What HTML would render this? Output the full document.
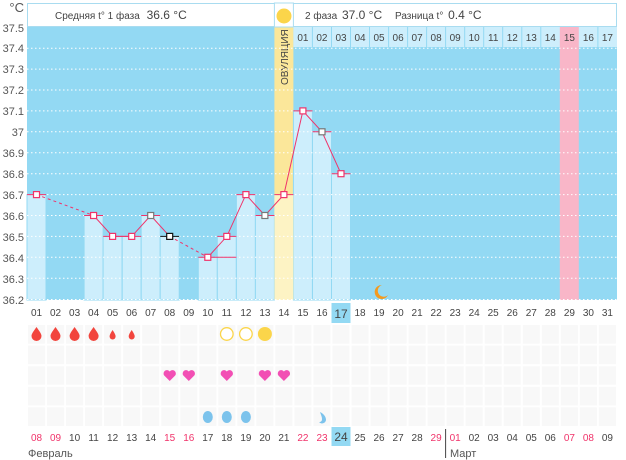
<!DOCTYPE html>
<html><head><meta charset="utf-8"><style>
html,body{margin:0;padding:0;background:#fff;}
svg{display:block;font-family:"Liberation Sans","DejaVu Sans",sans-serif;}
</style></head><body>
<svg width="626" height="460" viewBox="0 0 626 460" xmlns="http://www.w3.org/2000/svg">
<defs>
<pattern id="chk" width="19.03" height="20.6" patternUnits="userSpaceOnUse" x="27" y="324">
<rect width="19.03" height="20.6" fill="#fff"/>
<rect x="1" y="1" width="17" height="18.6" fill="#f8f8f8"/>
</pattern>
</defs>
<rect x="27" y="27" width="590" height="273" fill="#93d9f3"/>
<rect x="27.5" y="3.5" width="589" height="23" fill="#fff" stroke="#a9dcf0"/>
<text x="55" y="19" font-size="10" fill="#444">Средняя t° 1 фаза <tspan font-size="12" dx="4">36.6 °C</tspan></text>
<text x="305" y="19" font-size="10" fill="#444">2 фаза <tspan font-size="12" dx="2">37.0 °C</tspan></text>
<text x="395" y="19" font-size="10" fill="#444">Разница t° <tspan font-size="12" dx="2">0.4 °C</tspan></text>
<rect x="274.4" y="27" width="19" height="273" fill="#fbe79a"/>
<rect x="274.4" y="3" width="19" height="24" fill="#fff" stroke="#a9dcf0"/>
<circle cx="284" cy="16" r="7.5" fill="#fbd54a"/>
<text transform="translate(288,85) rotate(-90)" font-size="10" fill="#444">ОВУЛЯЦИЯ</text>
<rect x="559.8" y="27" width="19" height="273" fill="#f9b6c8"/>
<g font-size="10" fill="#444" text-anchor="middle">
<rect x="293.4" y="27" width="323.6" height="20" fill="#cdeefc"/>
<g stroke="#93d9f3" stroke-width="1">
<line x1="312.4" y1="27" x2="312.4" y2="47"/><line x1="331.5" y1="27" x2="331.5" y2="47"/><line x1="350.5" y1="27" x2="350.5" y2="47"/><line x1="369.5" y1="27" x2="369.5" y2="47"/><line x1="388.6" y1="27" x2="388.6" y2="47"/><line x1="407.6" y1="27" x2="407.6" y2="47"/><line x1="426.6" y1="27" x2="426.6" y2="47"/><line x1="445.6" y1="27" x2="445.6" y2="47"/><line x1="464.7" y1="27" x2="464.7" y2="47"/><line x1="483.7" y1="27" x2="483.7" y2="47"/><line x1="502.7" y1="27" x2="502.7" y2="47"/><line x1="521.8" y1="27" x2="521.8" y2="47"/><line x1="540.8" y1="27" x2="540.8" y2="47"/><line x1="597.9" y1="27" x2="597.9" y2="47"/>
</g>
<rect x="559.8" y="27" width="19" height="20" fill="#f9b6c8"/>
<text x="302.9" y="41">01</text><text x="321.9" y="41">02</text><text x="341" y="41">03</text><text x="360" y="41">04</text><text x="379" y="41">05</text><text x="398.1" y="41">06</text><text x="417.1" y="41">07</text><text x="436.1" y="41">08</text><text x="455.2" y="41">09</text><text x="474.2" y="41">10</text><text x="493.2" y="41">11</text><text x="512.3" y="41">12</text><text x="531.3" y="41">13</text><text x="550.3" y="41">14</text><text x="569.4" y="41">15</text><text x="588.4" y="41">16</text><text x="607.4" y="41">17</text>
</g>
<g fill="#cdeefc" stroke="#93d9f3" stroke-width="1">
<rect x="27" y="194.6" width="19" height="105.4"/>
<rect x="84.1" y="215.5" width="19" height="84.5"/>
<rect x="103.1" y="236.4" width="19" height="63.6"/>
<rect x="122.2" y="236.4" width="19" height="63.6"/>
<rect x="141.2" y="215.5" width="19" height="84.5"/>
<rect x="160.2" y="236.4" width="19" height="63.6"/>
<rect x="198.3" y="257.3" width="19" height="42.7"/>
<rect x="217.3" y="236.4" width="19" height="63.6"/>
<rect x="236.4" y="194.6" width="19" height="105.4"/>
<rect x="255.4" y="215.5" width="19" height="84.5"/>
<rect x="293.4" y="110.9" width="19" height="189.1"/>
<rect x="312.5" y="131.8" width="19" height="168.2"/>
<rect x="331.5" y="173.7" width="19" height="126.3"/>
</g>
<rect x="274.4" y="194.6" width="19" height="105.4" fill="#fdf3c4"/>
<g stroke="#fff" stroke-dasharray="1.5,2.5" stroke-width="1">
<line x1="27" y1="48.2" x2="617" y2="48.2"/><line x1="27" y1="69.1" x2="617" y2="69.1"/><line x1="27" y1="90" x2="617" y2="90"/><line x1="27" y1="110.9" x2="617" y2="110.9"/><line x1="27" y1="131.8" x2="617" y2="131.8"/><line x1="27" y1="152.7" x2="617" y2="152.7"/><line x1="27" y1="173.7" x2="617" y2="173.7"/><line x1="27" y1="194.6" x2="617" y2="194.6"/><line x1="27" y1="215.5" x2="617" y2="215.5"/><line x1="27" y1="236.4" x2="617" y2="236.4"/><line x1="27" y1="257.3" x2="617" y2="257.3"/><line x1="27" y1="278.2" x2="617" y2="278.2"/><line x1="27" y1="299.5" x2="617" y2="299.5"/>
</g>
<g font-size="11" fill="#555" text-anchor="end">
<text x="24" y="12" font-size="13">°C</text>
<text x="24" y="32">37.5</text><text x="24" y="52">37.4</text><text x="24" y="73">37.3</text><text x="24" y="94">37.2</text><text x="24" y="115">37.1</text><text x="24" y="136">37</text><text x="24" y="157">36.9</text><text x="24" y="178">36.8</text><text x="24" y="199">36.7</text><text x="24" y="220">36.6</text><text x="24" y="241">36.5</text><text x="24" y="262">36.4</text><text x="24" y="283">36.3</text><text x="24" y="304">36.2</text>
</g>
<g stroke="#f0336a" stroke-width="1" fill="none">
<polyline points="36.5,194.6 93.6,215.5" stroke-dasharray="3,3"/>
<polyline points="169.7,236.4 207.8,257.3" stroke-dasharray="3,3"/>
<polyline points="93.6,215.5 112.6,236.4 131.7,236.4 150.7,215.5 169.7,236.4"/>
<polyline points="207.8,257.3 226.8,236.4 245.9,194.6 264.9,215.5 283.9,194.6 302.9,110.9 322,131.8 341,173.7"/>
<line x1="27" y1="194.6" x2="46" y2="194.6"/><line x1="84.1" y1="215.5" x2="103.1" y2="215.5"/><line x1="103.1" y1="236.4" x2="141.2" y2="236.4"/><line x1="141.2" y1="215.5" x2="160.2" y2="215.5"/><line x1="198.3" y1="257.3" x2="236.4" y2="257.3"/><line x1="217.3" y1="236.4" x2="236.4" y2="236.4"/><line x1="236.4" y1="194.6" x2="255.4" y2="194.6"/><line x1="255.4" y1="215.5" x2="274.4" y2="215.5"/><line x1="274.4" y1="194.6" x2="293.4" y2="194.6"/><line x1="293.4" y1="110.9" x2="312.5" y2="110.9"/><line x1="312.5" y1="131.8" x2="331.5" y2="131.8"/><line x1="331.5" y1="173.7" x2="350.5" y2="173.7"/>
</g>
<line x1="160.2" y1="236.4" x2="179.2" y2="236.4" stroke="#111"/>
<g fill="#fff" stroke="#f0336a" stroke-width="1.2">
<rect x="33.5" y="191.6" width="6" height="6"/><rect x="90.6" y="212.5" width="6" height="6"/><rect x="109.6" y="233.4" width="6" height="6"/><rect x="128.7" y="233.4" width="6" height="6"/><rect x="204.8" y="254.3" width="6" height="6"/><rect x="223.8" y="233.4" width="6" height="6"/><rect x="242.9" y="191.6" width="6" height="6"/><rect x="280.9" y="191.6" width="6" height="6"/><rect x="299.9" y="107.9" width="6" height="6"/><rect x="338" y="170.7" width="6" height="6"/>
</g>
<rect x="147.7" y="212.5" width="6" height="6" fill="#fff" stroke="#777" stroke-width="1.2"/>
<rect x="166.7" y="233.4" width="6" height="6" fill="#fff" stroke="#111" stroke-width="1.2"/>
<rect x="261.9" y="212.5" width="6" height="6" fill="#fff" stroke="#777" stroke-width="1.2"/>
<rect x="319" y="128.8" width="6" height="6" fill="#fff" stroke="#777" stroke-width="1.2"/>
<path d="M382,285 a7,7 0 1 0 6,10 a6,6 0 1 1 -6,-10z" fill="#f39a1e"/>
<rect x="331.5" y="303" width="19" height="20" fill="#93d9f3"/>
<g font-size="10" fill="#444" text-anchor="middle">
<text x="36.5" y="316">01</text><text x="55.5" y="316">02</text><text x="74.6" y="316">03</text><text x="93.6" y="316">04</text><text x="112.6" y="316">05</text><text x="131.7" y="316">06</text><text x="150.7" y="316">07</text><text x="169.7" y="316">08</text><text x="188.8" y="316">09</text><text x="207.8" y="316">10</text><text x="226.8" y="316">11</text><text x="245.9" y="316">12</text><text x="264.9" y="316">13</text><text x="283.9" y="316">14</text><text x="302.9" y="316">15</text><text x="322" y="316">16</text><text x="341" y="318" font-size="12">17</text><text x="360" y="316">18</text><text x="379" y="316">19</text><text x="398.1" y="316">20</text><text x="417.1" y="316">21</text><text x="436.1" y="316">22</text><text x="455.2" y="316">23</text><text x="474.2" y="316">24</text><text x="493.2" y="316">25</text><text x="512.3" y="316">26</text><text x="531.3" y="316">27</text><text x="550.3" y="316">28</text><text x="569.4" y="316">29</text><text x="588.4" y="316">30</text><text x="607.4" y="316">31</text>
</g>
<rect x="27" y="324" width="590" height="103" fill="url(#chk)"/>
<g fill="#f2453d">
<path d="M36.5,327 C33,332 31.5,334 31.5,336 a5,5 0 0 0 10,0 C41.5,334 40,332 36.5,327z"/>
<path d="M55.5,327 C52,332 50.5,334 50.5,336 a5,5 0 0 0 10,0 C60.5,334 59,332 55.5,327z"/>
<path d="M74.6,327 C71,332 69.6,334 69.6,336 a5,5 0 0 0 10,0 C79.6,334 78,332 74.6,327z"/>
<path d="M93.6,327 C90,332 88.6,334 88.6,336 a5,5 0 0 0 10,0 C98.6,334 97,332 93.6,327z"/>
<path d="M112.6,330 C110.5,333 109.6,335 109.6,336.5 a3,3 0 0 0 6,0 C115.6,335 114.6,333 112.6,330z"/>
<path d="M131.7,330 C129.6,333 128.7,335 128.7,336.5 a3,3 0 0 0 6,0 C134.7,335 133.7,333 131.7,330z"/>
</g>
<circle cx="226.8" cy="334" r="6.3" fill="#fff" stroke="#fbd54a" stroke-width="1.3"/>
<circle cx="245.9" cy="334" r="6.3" fill="#fff" stroke="#fbd54a" stroke-width="1.3"/>
<circle cx="264.9" cy="334" r="7" fill="#fbd54a"/>
<g fill="#f24fb4">
<path d="M169.7,381 l-5.5,-5.5 a3,3 0 0 1 5.5,-4 a3,3 0 0 1 5.5,4z"/>
<path d="M188.8,381 l-5.5,-5.5 a3,3 0 0 1 5.5,-4 a3,3 0 0 1 5.5,4z"/>
<path d="M226.8,381 l-5.5,-5.5 a3,3 0 0 1 5.5,-4 a3,3 0 0 1 5.5,4z"/>
<path d="M264.9,381 l-5.5,-5.5 a3,3 0 0 1 5.5,-4 a3,3 0 0 1 5.5,4z"/>
<path d="M283.9,381 l-5.5,-5.5 a3,3 0 0 1 5.5,-4 a3,3 0 0 1 5.5,4z"/>
</g>
<g fill="#7cc3ec">
<ellipse cx="207.8" cy="417" rx="5" ry="6"/>
<ellipse cx="226.8" cy="417" rx="5" ry="6"/>
<ellipse cx="245.9" cy="417" rx="5" ry="6"/>
<path d="M320,412 c4,2 6,5 6,8 a4,4 0 0 1 -7,2 c2,0 3,-1 3,-3 c0,-2 -1,-4 -2,-7z"/>
</g>
<rect x="331.5" y="427" width="19" height="19" fill="#93d9f3"/>
<line x1="445.6" y1="429" x2="445.6" y2="458" stroke="#444"/>
<g font-size="10" fill="#444" text-anchor="middle">
<text x="36.5" y="441" fill="#f0336a">08</text><text x="55.5" y="441" fill="#f0336a">09</text><text x="74.6" y="441">10</text><text x="93.6" y="441">11</text><text x="112.6" y="441">12</text><text x="131.7" y="441">13</text><text x="150.7" y="441">14</text><text x="169.7" y="441" fill="#f0336a">15</text><text x="188.8" y="441" fill="#f0336a">16</text><text x="207.8" y="441">17</text><text x="226.8" y="441">18</text><text x="245.9" y="441">19</text><text x="264.9" y="441">20</text><text x="283.9" y="441">21</text><text x="302.9" y="441" fill="#f0336a">22</text><text x="322" y="441" fill="#f0336a">23</text><text x="341" y="441" font-size="12">24</text><text x="360" y="441">25</text><text x="379" y="441">26</text><text x="398.1" y="441">27</text><text x="417.1" y="441">28</text><text x="436.1" y="441" fill="#f0336a">29</text><text x="455.2" y="441" fill="#f0336a">01</text><text x="474.2" y="441">02</text><text x="493.2" y="441">03</text><text x="512.3" y="441">04</text><text x="531.3" y="441">05</text><text x="550.3" y="441">06</text><text x="569.4" y="441" fill="#f0336a">07</text><text x="588.4" y="441" fill="#f0336a">08</text><text x="607.4" y="441">09</text>
</g>
<text x="28" y="457" font-size="11" fill="#555">Февраль</text>
<text x="450" y="457" font-size="11" fill="#555">Март</text>
</svg>
</body></html>
